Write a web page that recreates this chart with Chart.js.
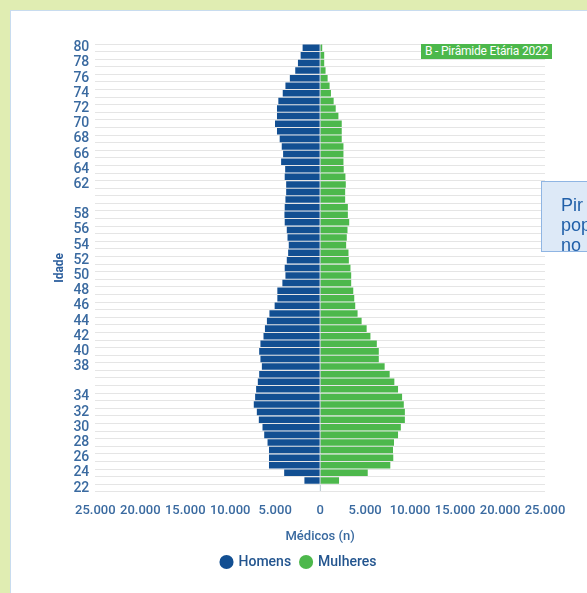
<!DOCTYPE html>
<html>
<head>
<meta charset="utf-8">
<script src="https://cdn.jsdelivr.net/npm/chart.js@4.4.1/dist/chart.umd.min.js"></script>
<style>
  body { margin: 0; width: 587px; height: 593px; overflow: hidden; background: #e0edb2; position: relative; }
  #card { position: absolute; left: 10px; top: 10px; width: 620px; height: 620px; background: #fff; border: 1px solid #c8dcef; }
  #wrap { position: absolute; left: 0; top: 0; }
  #badge { position: absolute; left: 421px; top: 44px; height: 15px; line-height: 15px; padding: 0 4px;
    background: #4cb84b; color: #fff; font: 12px Roboto, sans-serif; letter-spacing: -0.2px; }
  #note { position: absolute; left: 541px; top: 181px; width: 90px; height: 71px; background: #dde9f7;
    border: 1px solid #8fb5e3; color: #2160a9; font: 18px "Liberation Sans", Arial, sans-serif; line-height: 20px;
    padding: 13px 0 0 19px; box-sizing: border-box; }
</style>
</head>
<body>
<div id="card"></div>
<div id="wrap"><canvas id="chart" width="587" height="593"></canvas></div>
<div id="badge">B - Pirâmide Etária 2022</div>
<div id="note">Pir<br>pop<br>no</div>
<script>
// idades, de cima (80) para baixo (22)
const ages = [80, 79, 78, 77, 76, 75, 74, 73, 72, 71, 70, 69, 68, 67, 66, 65, 64, 63, 62, 61,
  60, 59, 58, 57, 56, 55, 54, 53, 52, 51, 50, 49, 48, 47, 46, 45, 44, 43, 42, 41,
  40, 39, 38, 37, 36, 35, 34, 33, 32, 31, 30, 29, 28, 27, 26, 25, 24, 23, 22];

const homens = [1950, 2170, 2470, 2770, 3370, 3860, 4160, 4650, 4800, 4800,
  5020, 4800, 4500, 4270, 4120, 4340, 3890, 3940, 3780, 3780,
  3860, 3940, 3970, 3940, 3710, 3630, 3490, 3560, 3710, 3940,
  3860, 4200, 4760, 4760, 5060, 5640, 5920, 6140, 6300, 6640,
  6780, 6640, 6480, 6780, 6930, 7120, 7230, 7380, 7040, 6820,
  6410, 6220, 5850, 5690, 5690, 5690, 4000, 1750, 50];

const mulheres = [230, 450, 450, 600, 830, 1050, 1200, 1500, 1730, 2030,
  2400, 2400, 2400, 2590, 2590, 2590, 2620, 2810, 2850, 2780,
  2780, 3080, 3080, 3230, 3040, 2960, 2890, 3150, 3190, 3370,
  3450, 3450, 3680, 3790, 3900, 4160, 4610, 5170, 5590, 6300,
  6520, 6520, 7170, 7730, 8250, 8660, 9110, 9300, 9420, 9420,
  8970, 8660, 8210, 8100, 8130, 7800, 5290, 2100, 50];

// rótulos exibidos no eixo y
const shownAges = [80, 78, 76, 74, 72, 70, 68, 66, 64, 62, 58, 56, 54, 52, 50, 48, 46, 44, 42, 40, 38, 34, 32, 30, 28, 26, 24, 22];

const xTicks = [-25000, -20000, -15000, -10000, -5000, 0, 5000, 10000, 15000, 20000, 25000];

const font = 'Roboto, sans-serif';
const textBlue = '#3a6aa0';

function fmt(v) {
  return String(Math.abs(v)).replace(/\B(?=(\d{3})+(?!\d))/g, '.');
}

new Chart(document.getElementById('chart'), {
  type: 'bar',
  data: {
    labels: ages.map(String),
    datasets: [
      {
        label: 'Homens',
        data: homens.map(v => -v),
        backgroundColor: '#124f92',
        barPercentage: 0.86,
        categoryPercentage: 1,
      },
      {
        label: 'Mulheres',
        data: mulheres,
        backgroundColor: '#4db84c',
        barPercentage: 0.86,
        categoryPercentage: 1,
      },
    ],
  },
  options: {
    indexAxis: 'y',
    responsive: false,
    animation: false,
    devicePixelRatio: 1,
    layout: { padding: { left: 53, right: 42, top: 44, bottom: 14 } },
    scales: {
      x: {
        min: -25000,
        max: 25000,
        z: 1,
        afterBuildTicks: (axis) => { axis.ticks = xTicks.map(v => ({ value: v })); },
        grid: {
          color: (ctx) => (ctx.tick && ctx.tick.value === 0 ? '#c7d3e0' : 'rgba(0,0,0,0)'),
          drawTicks: false,
        },
        border: { display: false },
        ticks: {
          padding: 11,
          maxRotation: 0,
          color: textBlue,
          font: { family: font, size: 13, weight: '500' },
          callback: (v) => fmt(v),
        },
        title: {
          display: true,
          text: 'Médicos (n)',
          color: textBlue,
          font: { family: font, size: 13, weight: '500' },
          padding: { top: 0, bottom: 0 },
        },
      },
      y: {
        stacked: true,
        grid: { color: '#e5e5e5', drawTicks: false, offset: true },
        border: { display: false },
        ticks: {
          autoSkip: false,
          padding: 6,
          color: textBlue,
          font: { family: font, size: 14, weight: '500' },
          callback: function (v, i) {
            const a = ages[i];
            return shownAges.includes(a) ? String(a) : '';
          },
        },
        title: {
          display: true,
          text: 'Idade',
          color: '#2a5d9c',
          font: { family: font, size: 12, weight: 'bold' },
          padding: { top: 0, bottom: 0 },
        },
      },
    },
    plugins: {
      tooltip: { enabled: false },
      legend: {
        position: 'bottom',
        labels: {
          usePointStyle: true,
          pointStyle: 'circle',
          boxWidth: 10,
          boxHeight: 10,
          padding: 10,
          color: '#23558f',
          font: { family: font, size: 14, weight: '500' },
        },
      },
    },
  },
});
</script>
</body>
</html>
